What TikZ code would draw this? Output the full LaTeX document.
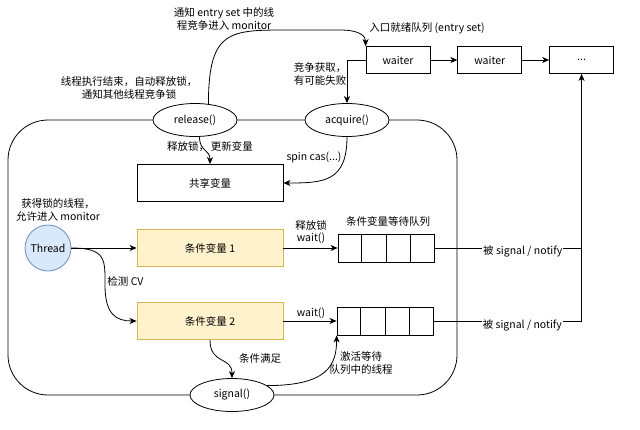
\documentclass[tikz,border=0pt]{standalone}
\usepackage{fontspec}
\setmainfont{Noto Sans CJK SC}
\usepackage{tikz}
\usetikzlibrary{arrows.meta}
\usetikzlibrary{shapes.geometric}
\usetikzlibrary{positioning}
\usetikzlibrary{calc}
\definecolor{threadfill}{HTML}{DAE8FC}
\definecolor{threadline}{HTML}{6C8EBF}
\definecolor{cvfill}{HTML}{FFF2CC}
\definecolor{cvline}{HTML}{D6B656}
\tikzset{call/.style = {draw, ellipse, fill=white, minimum width=84pt,
                        minimum height=33pt, inner sep=0pt}}
\tikzset{waiterbox/.style = {draw, fill=white, minimum width=64pt,
                             minimum height=27pt, inner sep=0pt}}
\tikzset{cvbox/.style = {draw=cvline, fill=cvfill, minimum width=146pt,
                         minimum height=37pt, inner sep=0pt}}
\tikzset{queue/.style = {draw, minimum width=96pt, minimum height=28pt, inner sep=0pt}}
\tikzset{note/.style = {align=center, inner sep=1pt}}

\begin{document}
\begin{tikzpicture}[x=1pt, y=-1pt, line width=0.8pt,
                    >={Stealth[length=7pt, width=6pt, inset=2pt]},
                    font=\fontsize{10.5}{12.5}\selectfont]
      \useasboundingbox (0, 0) rectangle (640, 429);

      % monitor
      \draw [rounded corners=40] (8, 120) rectangle (457, 395);

      \node [call] (release) at (195, 120) {release()};
      \node [call] (acquire) at (347, 120) {acquire()};
      \node [call] (signal) at (232, 395) {signal()};

      \node [waiterbox] (waiter1) at (398, 60) {waiter};
      \node [waiterbox, right=27pt of waiter1] (waiter2) {waiter};
      \node [waiterbox, right=27pt of waiter2] (dots) {...};
      \node [note] at (427, 28) {入口就绪队列 (entry set)};

      \node [draw, minimum width=146pt, minimum height=37pt] (shared) at (210, 183) {共享变量};

      \node [circle, draw=threadline, fill=threadfill, minimum size=46pt,
             inner sep=0pt] (thread) at (48, 248) {Thread};
      \node [cvbox] (cv1) at (210, 248) {条件变量 1};
      \node [cvbox] (cv2) at (210, 321) {条件变量 2};

      \node [queue] (q1) at (386, 248) {};
      \node [queue] (q2) at (385, 321) {};
      \foreach \q in {q1, q2} {
        \foreach \i in {1, 2, 3} {
          \draw ($(\q.north west)!\i/4!(\q.north east)$) -- ($(\q.south west)!\i/4!(\q.south east)$);
        }
      }

      % entry set
      \draw [->] (release.50) .. controls +(0, -75) and +(-60, 0) .. (290, 30)
                 -- (340, 30) .. controls +(20, 0) and +(0, -10) .. (waiter1.north west);
      \node [note] at (224, 19) {通知 entry set 中的线\\程竞争进入 monitor};
      \node [note] at (129, 88) {线程执行结束，自动释放锁，\\通知其他线程竞争锁};

      \draw [->] (waiter1) -- (waiter2);
      \draw [->] (waiter2) -- (dots);
      \draw [->] (waiter1.west) -| (acquire.north);
      \node [note, align=left] at (320, 74) {竞争获取，\\有可能失败};

      % shared variable
      \draw [->] (release.-75) .. controls +(0, 15) and +(0, -15) .. (shared.north);
      \node [note] at (210, 147) {释放锁，\hspace{2pt}更新变量};
      \draw [->] (acquire.south) .. controls +(0, 45) and +(40, 0) .. (shared.east);
      \node [note] at (314, 157) {spin cas(...)};

      % condition variables
      \node [note] at (58, 210) {获得锁的线程，\\允许进入 monitor};
      \draw [->] (thread) -- (cv1);
      \draw [->] (thread.east) .. controls +(35, 0) and +(0, -25) .. (105, 285)
                 .. controls +(0, 30) and +(-20, 0) .. (cv2.west);
      \node [note, anchor=west] at (106, 281) {检测 CV};

      \draw [->] (cv1) -- (q1);
      \node [note] at (311, 232) {释放锁\\wait()};
      \draw [->] (cv2) -- (q2);
      \node [note] at (311, 313) {wait()};
      \node [note] at (388, 221) {条件变量等待队列};

      \draw [->] (q1.east) -| (dots.south)
                 node [pos=0.3, fill=white, yshift=-3pt, inner sep=1pt] {被 signal / notify};
      \draw (q2.east) -| (dots.south)
            node [pos=0.3, fill=white, yshift=-4pt, inner sep=1pt] {被 signal / notify};

      % signal
      \draw [->] (cv2.south) .. controls +(0, 25) and +(0, -22) .. (signal.north);
      \node [note] at (260, 358) {条件满足};
      \draw [->] (signal.15) .. controls +(60, 0) and +(0, 30) .. (q2.south west);
      \node [note] at (361, 363) {激活等待\\队列中的线程};
    \end{tikzpicture}
\end{document}
